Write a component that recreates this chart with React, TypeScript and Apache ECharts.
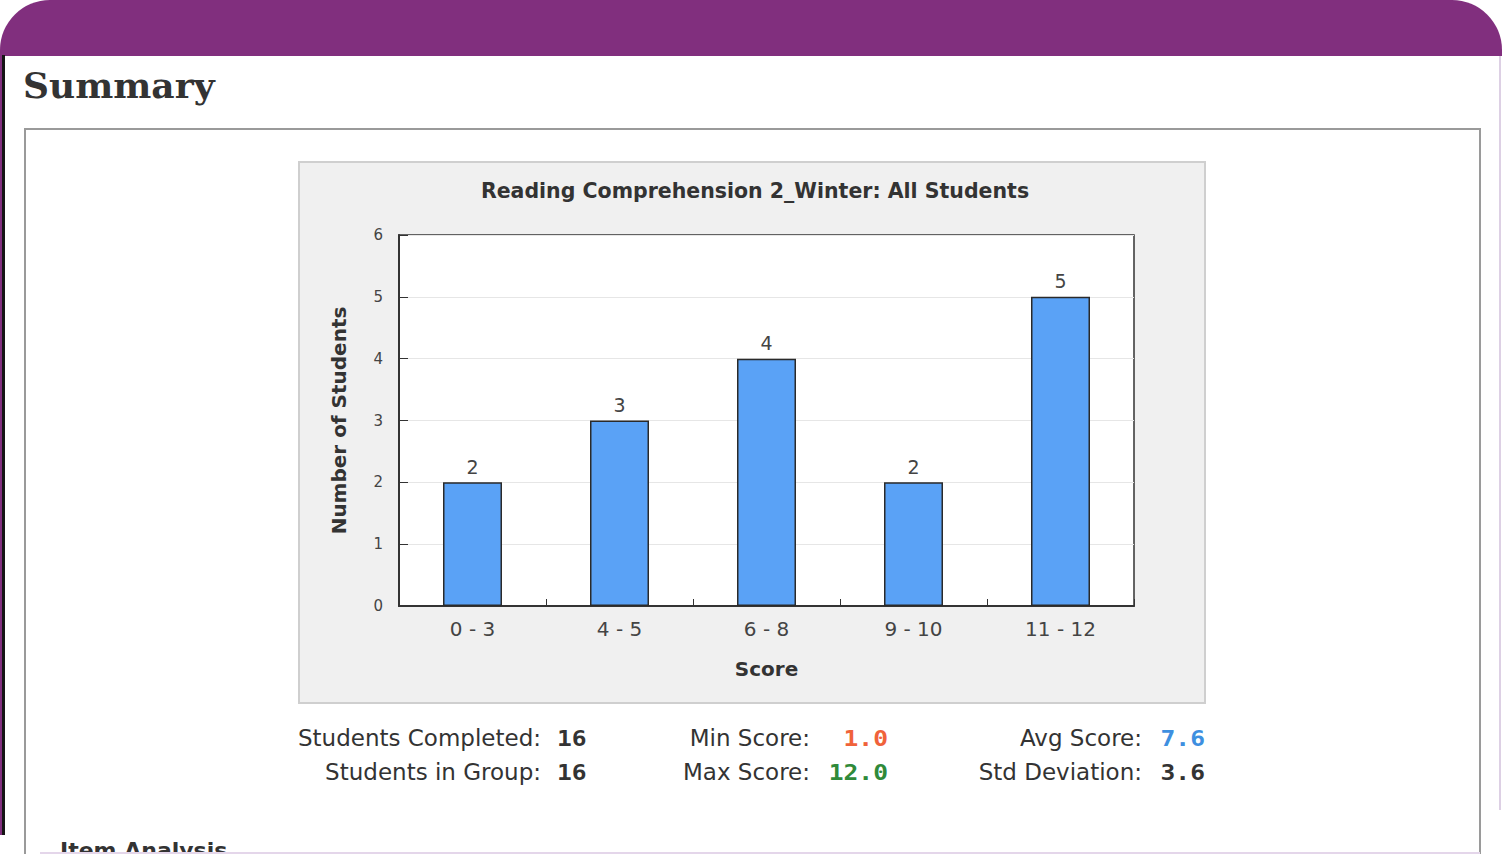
import React, { useEffect, useRef } from "react";
import * as echarts from "echarts";

const categories = ["0 - 3", "4 - 5", "6 - 8", "9 - 10", "11 - 12"];
const studentCounts = [2, 3, 4, 2, 5];
const yTicks = { min: 0, max: 6, interval: 1 };
const chartTitle = "Reading Comprehension 2_Winter: All Students";
const statsLeft = [
  { label: "Students Completed:", value: "16" },
  { label: "Students in Group:", value: "16" },
];
const statsMid = [
  { label: "Min Score:", value: "1.0" },
  { label: "Max Score:", value: "12.0" },
];
const statsRight = [
  { label: "Avg Score:", value: "7.6" },
  { label: "Std Deviation:", value: "3.6" },
];
const midColors = ["#F0623A", "#2F8A3A"];
const rightColors = ["#3E8FE0", "#333333"];

const SANS = "'DejaVu Sans', 'Noto Sans', sans-serif";
const MONO = "'DejaVu Sans Mono', monospace";

export default function App() {
  const ref = useRef<HTMLDivElement>(null);
  useEffect(() => {
    if (!ref.current) return;
    const chart = echarts.init(ref.current, undefined, { renderer: "svg" });

    const statTexts: any[] = [];
    const rowsY = [738, 772];
    const addCol = (
      items: { label: string; value: string }[],
      labelRight: number,
      valueX: number,
      valueAlign: string,
      colors: string[]
    ) => {
      items.forEach((it, i) => {
        statTexts.push({
          type: "text",
          x: labelRight,
          y: rowsY[i],
          style: {
            text: it.label,
            align: "right",
            verticalAlign: "middle",
            fill: "#333",
            font: `23px ${SANS}`,
          },
        });
        statTexts.push({
          type: "text",
          x: valueX,
          y: rowsY[i],
          scaleX: 1.12,
          style: {
            text: it.value,
            align: valueAlign,
            verticalAlign: "middle",
            fill: colors[i],
            font: `bold 22px ${MONO}`,
          },
        });
      });
    };
    addCol(statsLeft, 541, 557, "left", ["#333", "#333"]);
    addCol(statsMid, 810, 888, "right", midColors);
    addCol(statsRight, 1142, 1205, "right", rightColors);

    chart.setOption({
      animation: false,
      backgroundColor: "#ffffff",
      graphic: {
        elements: [
          {
            type: "rect",
            z: -5,
            shape: { x: 0, y: 0, width: 1502, height: 56, r: [50, 50, 0, 0] },
            style: { fill: "#812F7E" },
          },
          {
            type: "rect",
            z: -5,
            shape: { x: 0, y: 55, width: 2, height: 780 },
            style: { fill: "#812F7E" },
          },
          {
            type: "rect",
            z: -5,
            shape: { x: 2, y: 55, width: 3, height: 780 },
            style: { fill: "#151515" },
          },
          {
            type: "line",
            z: -5,
            shape: { x1: 1500, y1: 56, x2: 1500, y2: 810 },
            style: { stroke: "#ddd0e4", lineWidth: 2 },
          },
          {
            type: "text",
            x: 23,
            y: 85,
            style: {
              text: "Summary",
              verticalAlign: "middle",
              fill: "#333",
              font: "bold 36px 'DejaVu Serif', serif",
            },
          },
          {
            type: "rect",
            z: -5,
            shape: { x: 25, y: 129, width: 1455, height: 760 },
            style: { fill: "none", stroke: "#9a9a9a", lineWidth: 2 },
          },
          {
            type: "rect",
            z: -4,
            shape: { x: 299, y: 162, width: 906, height: 541 },
            style: { fill: "#f0f0f0", stroke: "#cfcfcf", lineWidth: 2 },
          },
          {
            type: "text",
            x: 755,
            y: 191,
            style: {
              text: chartTitle,
              align: "center",
              verticalAlign: "middle",
              fill: "#333",
              font: `bold 20.5px ${SANS}`,
            },
          },
          ...statTexts,
          {
            type: "text",
            x: 60,
            y: 839,
            style: {
              text: "Item Analysis",
              verticalAlign: "top",
              fill: "#333",
              font: `bold 22px ${SANS}`,
            },
          },
          {
            type: "line",
            shape: { x1: 40, y1: 853, x2: 1480, y2: 853 },
            style: { stroke: "#e4d6ea", lineWidth: 2 },
          },
        ],
      },
      grid: {
        left: 399,
        top: 235,
        width: 735,
        height: 371,
        show: true,
        backgroundColor: "#ffffff",
        borderColor: "#333",
        borderWidth: 1.5,
      },
      xAxis: {
        type: "category",
        data: categories,
        axisLine: { lineStyle: { color: "#333", width: 2 } },
        axisTick: { show: true, inside: true, length: 7, lineStyle: { color: "#333" } },
        axisLabel: { fontSize: 20, color: "#444", margin: 13, fontFamily: SANS },
        name: "Score",
        nameLocation: "middle",
        nameGap: 53,
        nameTextStyle: { fontSize: 20, fontWeight: "bold", color: "#333", fontFamily: SANS },
      },
      yAxis: {
        type: "value",
        min: yTicks.min,
        max: yTicks.max,
        interval: yTicks.interval,
        axisLine: { show: true, lineStyle: { color: "#333", width: 2 } },
        axisTick: { show: true, inside: true, length: 9, lineStyle: { color: "#333" } },
        splitLine: { show: true, lineStyle: { color: "#e6e6e6", width: 1 } },
        axisLabel: { fontSize: 15, color: "#444", margin: 16, fontFamily: SANS },
        name: "Number of Students",
        nameLocation: "middle",
        nameRotate: 90,
        nameGap: 50,
        nameTextStyle: { fontSize: 20, fontWeight: "bold", color: "#333", fontFamily: SANS },
      },
      series: [
        {
          type: "bar",
          data: studentCounts,
          barWidth: 59,
          itemStyle: { color: "#5AA2F6", borderColor: "#2a2a2a", borderWidth: 1.5 },
          label: {
            show: true,
            position: "top",
            distance: 6,
            color: "#444",
            fontSize: 19,
            fontFamily: SANS,
          },
        },
      ],
    });
    return () => chart.dispose();
  }, []);
  return (
    <div
      ref={ref}
      style={{ position: "absolute", left: 0, top: 0, width: 1502, height: 854 }}
    />
  );
}
